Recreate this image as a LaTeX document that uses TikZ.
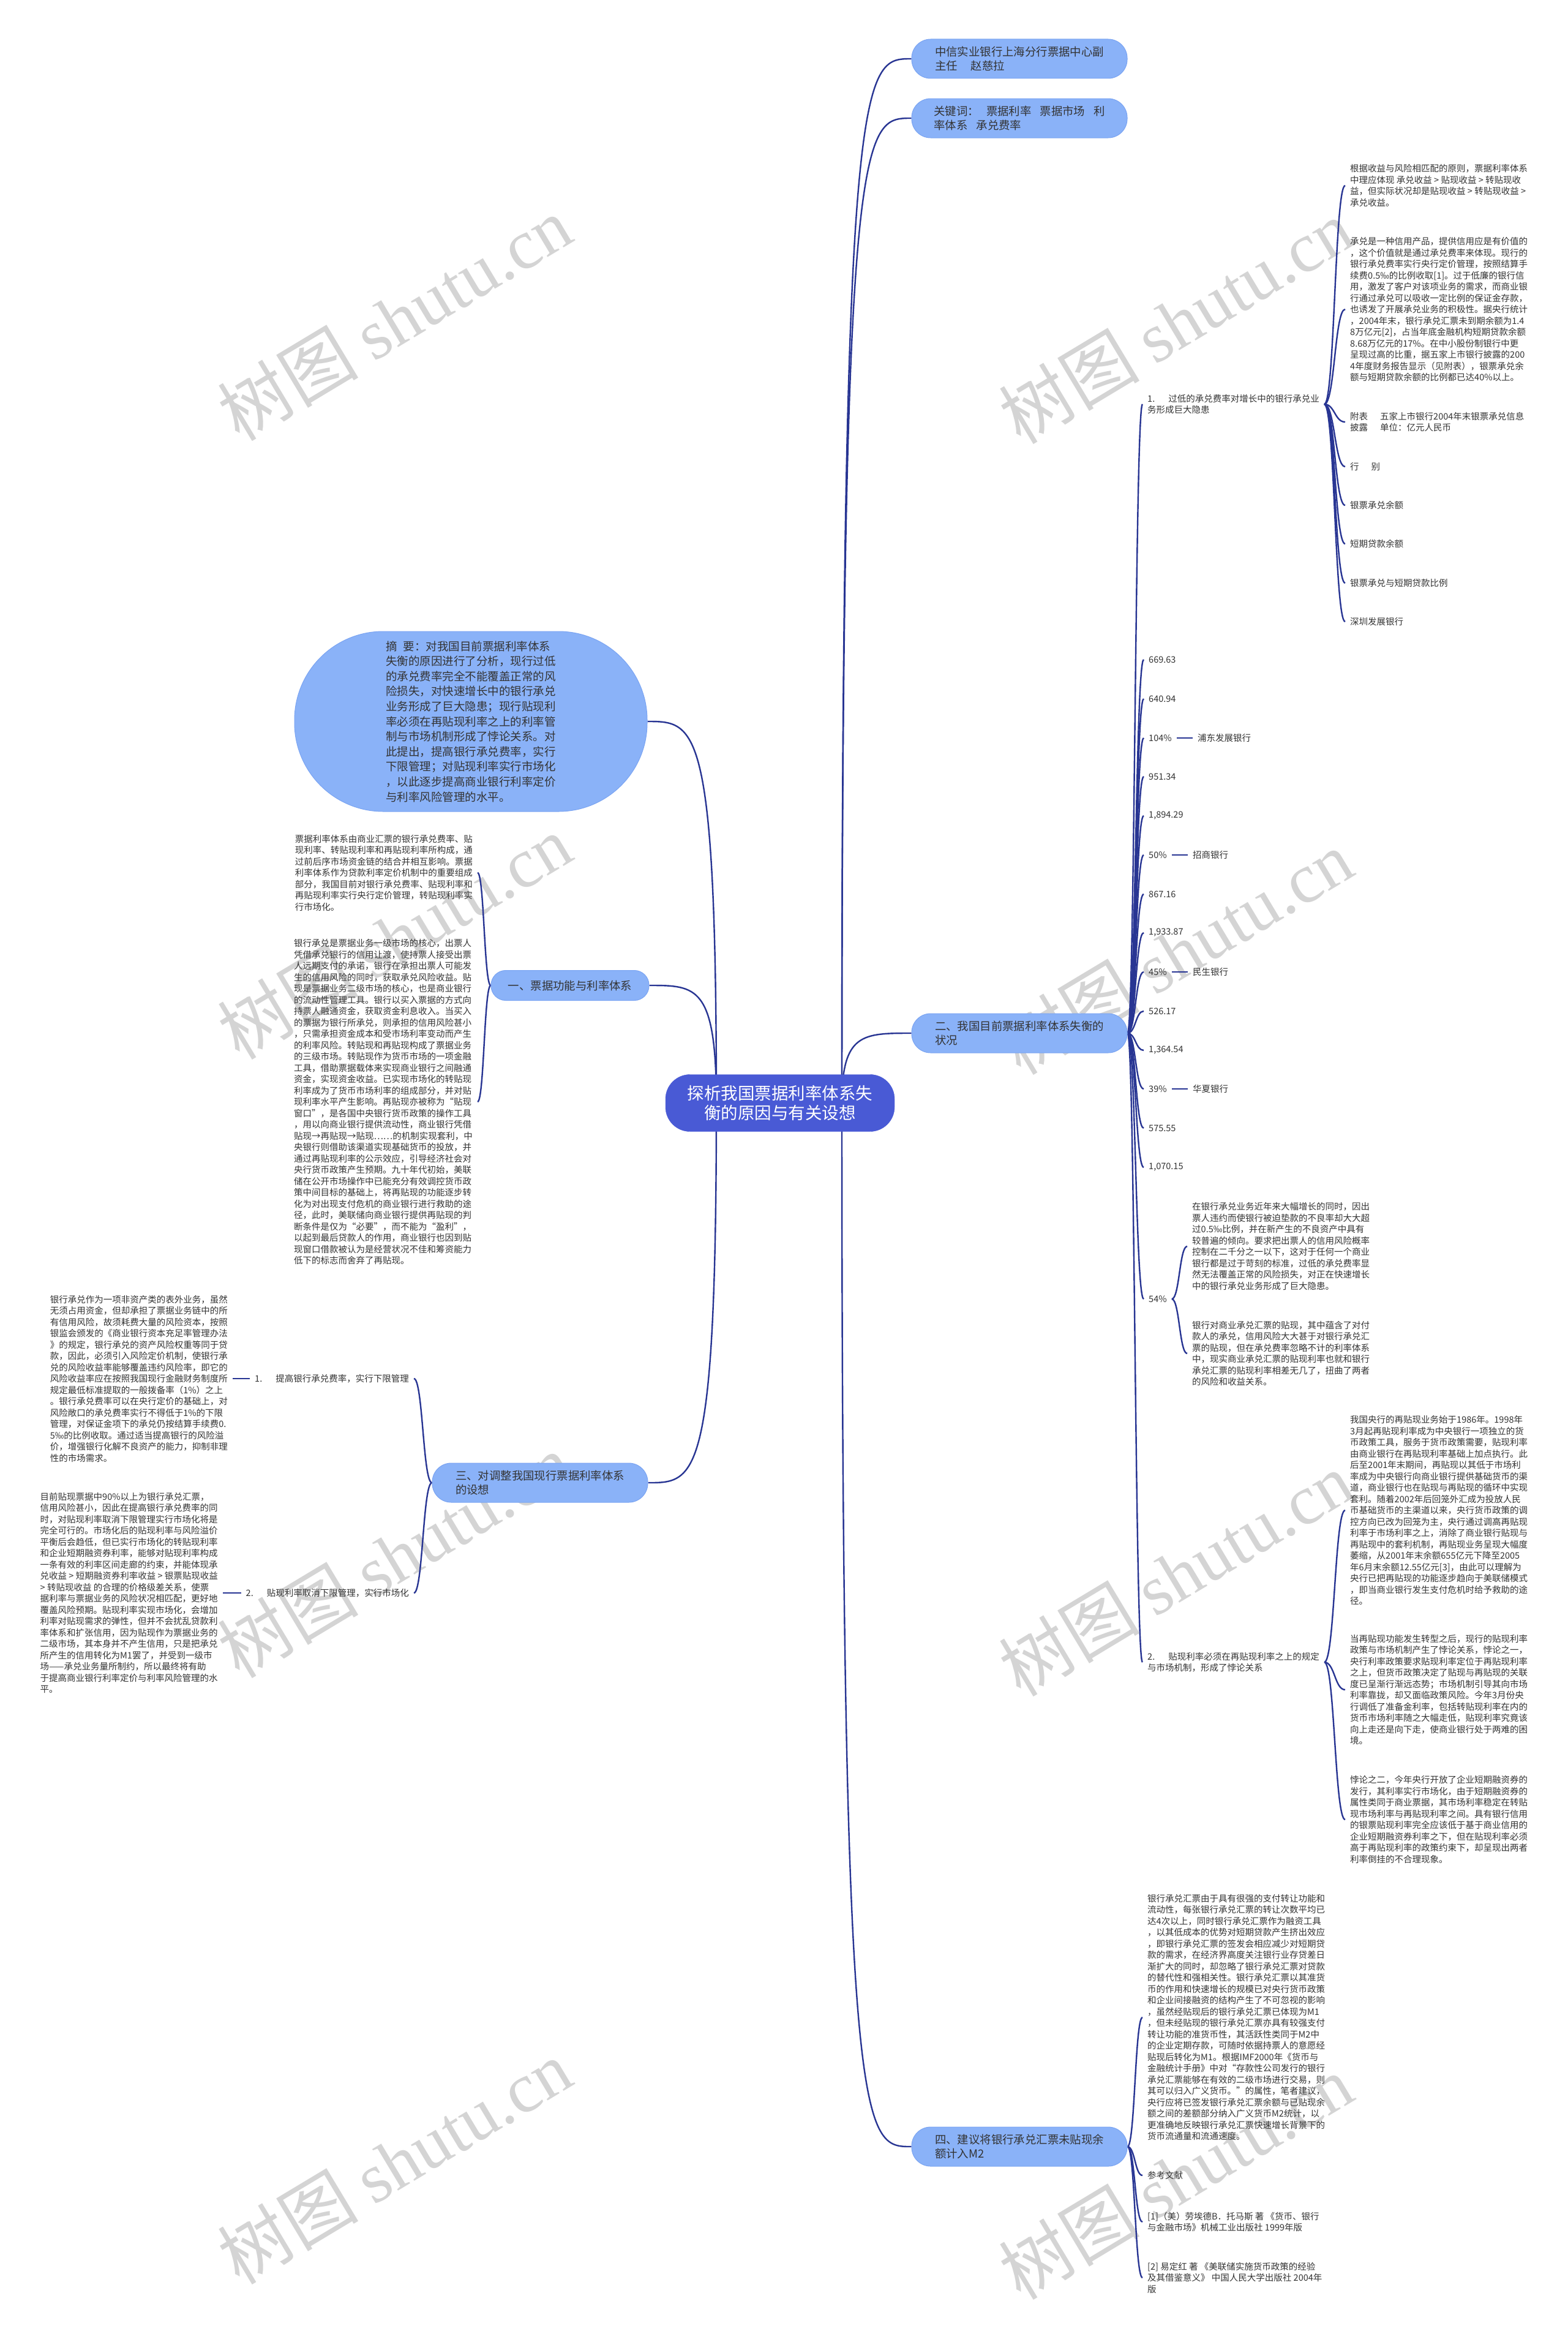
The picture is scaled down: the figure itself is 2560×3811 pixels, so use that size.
\documentclass[tikz,border=0pt]{standalone}
\usepackage{fontspec}
\setmainfont{Noto Sans CJK SC}
\newfontfamily\wmserif{Liberation Serif}
\usetikzlibrary{calc}
\definecolor{linec}{RGB}{40,53,147}
\definecolor{lvfill}{RGB}{138,178,248}
\definecolor{lvdraw}{RGB}{122,164,242}
\definecolor{rootfill}{RGB}{73,90,213}
\definecolor{txtc}{RGB}{51,51,51}
\definecolor{wmc}{RGB}{212,212,212}
\pgfdeclarelayer{wmlayer}
\pgfdeclarelayer{bglayer}
\pgfsetlayers{wmlayer,bglayer,main}
\newcommand{\mmlink}[2]{\draw[conn] let \p1=(#1), \p2=(#2) in (\p1) .. controls ({0.5*\x1+0.5*\x2},\y1) and ({0.5*\x1+0.5*\x2},\y2) .. (\p2);}
\newcommand{\mmroot}[2]{\draw[conn] let \p1=(#1), \p2=(#2) in (\p1) .. controls (\x1,\y2) and ({0.7*\x1+0.3*\x2},\y2) .. (\p2);}
\tikzset{
  conn/.style={draw=linec, line width=2.4pt},
  lvone/.style={fill=lvfill, draw=lvdraw, line width=1pt, rounded corners=31pt, minimum width=352pt, minimum height=64pt, inner sep=0pt, font=\fontsize{18.4}{23.3}\selectfont, text=txtc, align=left},
  rootbox/.style={fill=rootfill, draw=rootfill, rounded corners=40pt, minimum width=374pt, minimum height=93pt, inner sep=0pt, font=\fontsize{27.5}{32}\selectfont, text=white, align=center},
  txt/.style={font=\fontsize{14.5}{18.5}\selectfont, text=txtc, align=left, inner xsep=8pt, inner ysep=2pt},
  wm/.style={font=\fontsize{115}{115}\selectfont, text=wmc, rotate=31, inner sep=0pt}
}
\begin{document}
\begin{tikzpicture}[x=1pt,y=-1pt]
\useasboundingbox (0,0) rectangle (2560,3811);
\begin{pgfonlayer}{wmlayer}
\fill[white] (0,0) rectangle (2560,3811);
\foreach \wx/\wy in {644/520,1920/525,644/1530,1920/1555,644/2540,1920/2570,644/3530,1920/3555}
  \node[wm] at (\wx,\wy) {树图\hspace{25pt}{\wmserif shutu.cn}};
\end{pgfonlayer}

% root and level one
\node[rootbox] (root) at (1274,1801) {探析我国票据利率体系失\\衡的原因与有关设想};
\coordinate (rootR) at (1375,1801);
\coordinate (rootL) at (1170,1801);
\node[lvone] (na) at (1665,96) {中信实业银行上海分行票据中心副\\主任\hspace{22pt}赵慈拉};
\node[lvone] (nb) at (1665,193) {关键词：\hspace{12pt}票据利率\hspace{14pt}票据市场\hspace{14pt}利\\率体系\hspace{14pt}承兑费率};
\node[lvone] (two) at (1665,1687) {二、我国目前票据利率体系失衡的\\状况};
\node[lvone] (four) at (1665,3505) {四、建议将银行承兑汇票未贴现余\\额计入M2};
\node[lvone, minimum width=258pt, minimum height=49pt, rounded corners=24pt] (one) at (931,1609) {一、票据功能与利率体系};
\node[lvone] (three) at (882,2421) {三、对调整我国现行票据利率体系\\的设想};
\node[lvone, minimum width=576pt, minimum height=294pt, rounded corners=145pt, font=\fontsize{18.5}{24.6}\selectfont] (summ) at (769,1178) {摘\hspace{10pt}要：对我国目前票据利率体系\\失衡的原因进行了分析，现行过低\\的承兑费率完全不能覆盖正常的风\\险损失，对快速增长中的银行承兑\\业务形成了巨大隐患；现行贴现利\\率必须在再贴现利率之上的利率管\\制与市场机制形成了悖论关系。对\\此提出，提高银行承兑费率，实行\\下限管理；对贴现利率实行市场化\\，以此逐步提高商业银行利率定价\\与利率风险管理的水平。};

% branch two
\node[txt, anchor=west] (n1) at (1866,660) {1.\hspace{22pt}过低的承兑费率对增长中的银行承兑业\\务形成巨大隐患};
\node[txt, anchor=west] (r1) at (2197,303) {根据收益与风险相匹配的原则，票据利率体系\\中理应体现 承兑收益 > 贴现收益 > 转贴现收\\益，但实际状况却是贴现收益 > 转贴现收益 >\\承兑收益。};
\node[txt, anchor=west] (r2) at (2197,505) {承兑是一种信用产品，提供信用应是有价值的\\，这个价值就是通过承兑费率来体现。现行的\\银行承兑费率实行央行定价管理，按照结算手\\续费0.5‰的比例收取[1]。过于低廉的银行信\\用，激发了客户对该项业务的需求，而商业银\\行通过承兑可以吸收一定比例的保证金存款，\\也诱发了开展承兑业务的积极性。据央行统计\\，2004年末，银行承兑汇票未到期余额为1.4\\8万亿元[2]，占当年底金融机构短期贷款余额\\8.68万亿元的17\%。在中小股份制银行中更\\呈现过高的比重，据五家上市银行披露的200\\4年度财务报告显示（见附表），银票承兑余\\额与短期贷款余额的比例都已达40\%以上。};
\node[txt, anchor=west] (r3) at (2197,689) {附表\hspace{20pt}五家上市银行2004年末银票承兑信息\\披露\hspace{20pt}单位：亿元人民币};
\node[txt, anchor=west] (r4) at (2197,762) {行\hspace{20pt}别};
\node[txt, anchor=west] (r5) at (2197,825) {银票承兑余额};
\node[txt, anchor=west] (r6) at (2197,888) {短期贷款余额};
\node[txt, anchor=west] (r7) at (2197,952) {银票承兑与短期贷款比例};
\node[txt, anchor=west] (r8) at (2197,1015) {深圳发展银行};

\node[txt, anchor=west] (i0) at (1868,1077) {669.63};
\node[txt, anchor=west] (i1) at (1868,1141) {640.94};
\node[txt, anchor=west] (i2) at (1868,1205) {104\%};
\node[txt, anchor=west] (i3) at (1868,1268) {951.34};
\node[txt, anchor=west] (i4) at (1868,1332) {1,894.29};
\node[txt, anchor=west] (i5) at (1868,1396) {50\%};
\node[txt, anchor=west] (i6) at (1868,1460) {867.16};
\node[txt, anchor=west] (i7) at (1868,1523) {1,933.87};
\node[txt, anchor=west] (i8) at (1868,1587) {45\%};
\node[txt, anchor=west] (i9) at (1868,1651) {526.17};
\node[txt, anchor=west] (i10) at (1868,1715) {1,364.54};
\node[txt, anchor=west] (i11) at (1868,1778) {39\%};
\node[txt, anchor=west] (i12) at (1868,1842) {575.55};
\node[txt, anchor=west] (i13) at (1868,1906) {1,070.15};
\node[txt, anchor=west] (b2) at ($(i2.east)+(26,0)$) {浦东发展银行};
\node[txt, anchor=west] (b5) at ($(i5.east)+(26,0)$) {招商银行};
\node[txt, anchor=west] (b8) at ($(i8.east)+(26,0)$) {民生银行};
\node[txt, anchor=west] (b11) at ($(i11.east)+(26,0)$) {华夏银行};

\node[txt, anchor=west] (p54) at (1868,2121) {54\%};
\node[txt, anchor=west] (s1) at (1939,2035) {在银行承兑业务近年来大幅增长的同时，因出\\票人违约而使银行被迫垫款的不良率却大大超\\过0.5‰比例，并在新产生的不良资产中具有\\较普遍的倾向。要求把出票人的信用风险概率\\控制在二千分之一以下，这对于任何一个商业\\银行都是过于苛刻的标准，过低的承兑费率显\\然无法覆盖正常的风险损失，对正在快速增长\\中的银行承兑业务形成了巨大隐患。};
\node[txt, anchor=west] (s2) at (1939,2210) {银行对商业承兑汇票的贴现，其中蕴含了对付\\款人的承兑，信用风险大大甚于对银行承兑汇\\票的贴现，但在承兑费率忽略不计的利率体系\\中，现实商业承兑汇票的贴现利率也就和银行\\承兑汇票的贴现利率相差无几了，扭曲了两者\\的风险和收益关系。};

\node[txt, anchor=west] (n2) at (1866,2714) {2.\hspace{22pt}贴现利率必须在再贴现利率之上的规定\\与市场机制，形成了悖论关系};
\node[txt, anchor=west] (t1) at (2197,2466) {我国央行的再贴现业务始于1986年。1998年\\3月起再贴现利率成为中央银行一项独立的货\\币政策工具，服务于货币政策需要，贴现利率\\由商业银行在再贴现利率基础上加点执行。此\\后至2001年末期间，再贴现以其低于市场利\\率成为中央银行向商业银行提供基础货币的渠\\道，商业银行也在贴现与再贴现的循环中实现\\套利。随着2002年后回笼外汇成为投放人民\\币基础货币的主渠道以来，央行货币政策的调\\控方向已改为回笼为主，央行通过调高再贴现\\利率于市场利率之上，消除了商业银行贴现与\\再贴现中的套利机制，再贴现业务呈现大幅度\\萎缩，从2001年末余额655亿元下降至2005\\年6月末余额12.55亿元[3]，由此可以理解为\\央行已把再贴现的功能逐步趋向于美联储模式\\，即当商业银行发生支付危机时给予救助的途\\径。};
\node[txt, anchor=west] (t2) at (2197,2759) {当再贴现功能发生转型之后，现行的贴现利率\\政策与市场机制产生了悖论关系，悖论之一，\\央行利率政策要求贴现利率定位于再贴现利率\\之上，但货币政策决定了贴现与再贴现的关联\\度已呈渐行渐远态势；市场机制引导其向市场\\利率靠拢，却又面临政策风险。今年3月份央\\行调低了准备金利率，包括转贴现利率在内的\\货币市场利率随之大幅走低，贴现利率究竟该\\向上走还是向下走，使商业银行处于两难的困\\境。};
\node[txt, anchor=west] (t3) at (2197,2971) {悖论之二，今年央行开放了企业短期融资券的\\发行，其利率实行市场化，由于短期融资券的\\属性类同于商业票据，其市场利率稳定在转贴\\现市场利率与再贴现利率之间。具有银行信用\\的银票贴现利率完全应该低于基于商业信用的\\企业短期融资券利率之下，但在贴现利率必须\\高于再贴现利率的政策约束下，却呈现出两者\\利率倒挂的不合理现象。};

% branch four
\node[txt, anchor=west] (u1) at (1866,3294) {银行承兑汇票由于具有很强的支付转让功能和\\流动性，每张银行承兑汇票的转让次数平均已\\达4次以上，同时银行承兑汇票作为融资工具\\，以其低成本的优势对短期贷款产生挤出效应\\，即银行承兑汇票的签发会相应减少对短期贷\\款的需求，在经济界高度关注银行业存贷差日\\渐扩大的同时，却忽略了银行承兑汇票对贷款\\的替代性和强相关性。银行承兑汇票以其准货\\币的作用和快速增长的规模已对央行货币政策\\和企业间接融资的结构产生了不可忽视的影响\\，虽然经贴现后的银行承兑汇票已体现为M1\\，但未经贴现的银行承兑汇票亦具有较强支付\\转让功能的准货币性，其活跃性类同于M2中\\的企业定期存款，可随时依据持票人的意愿经\\贴现后转化为M1。根据IMF2000年《货币与\\金融统计手册》中对“存款性公司发行的银行\\承兑汇票能够在有效的二级市场进行交易，则\\其可以归入广义货币。”的属性，笔者建议，\\央行应将已签发银行承兑汇票余额与已贴现余\\额之间的差额部分纳入广义货币M2统计，以\\更准确地反映银行承兑汇票快速增长背景下的\\货币流通量和流通速度。};
\node[txt, anchor=west] (u2) at (1866,3552) {参考文献};
\node[txt, anchor=west] (u3) at (1866,3628) {[1]（美）劳埃德B．托马斯 著 《货币、银行\\与金融市场》机械工业出版社 1999年版};
\node[txt, anchor=west] (u4) at (1866,3719) {[2] 易定红 著 《美联储实施货币政策的经验\\及其借鉴意义》 中国人民大学出版社 2004年\\版};

% branch one
\node[txt, anchor=east] (l1) at (780,1425) {票据利率体系由商业汇票的银行承兑费率、贴\\现利率、转贴现利率和再贴现利率所构成，通\\过前后序市场资金链的结合并相互影响。票据\\利率体系作为贷款利率定价机制中的重要组成\\部分，我国目前对银行承兑费率、贴现利率和\\再贴现利率实行央行定价管理，转贴现利率实\\行市场化。};
\node[txt, anchor=east] (l2) at (780,1799) {银行承兑是票据业务一级市场的核心，出票人\\凭借承兑银行的信用让渡，使持票人接受出票\\人远期支付的承诺，银行在承担出票人可能发\\生的信用风险的同时，获取承兑风险收益。贴\\现是票据业务二级市场的核心，也是商业银行\\的流动性管理工具。银行以买入票据的方式向\\持票人融通资金，获取资金利息收入。当买入\\的票据为银行所承兑，则承担的信用风险甚小\\，只需承担资金成本和受市场利率变动而产生\\的利率风险。转贴现和再贴现构成了票据业务\\的三级市场。转贴现作为货币市场的一项金融\\工具，借助票据载体来实现商业银行之间融通\\资金，实现资金收益。已实现市场化的转贴现\\利率成为了货币市场利率的组成部分，并对贴\\现利率水平产生影响。再贴现亦被称为“贴现\\窗口”，是各国中央银行货币政策的操作工具\\，用以向商业银行提供流动性，商业银行凭借\\贴现→再贴现→贴现……的机制实现套利，中\\央银行则借助该渠道实现基础货币的投放，并\\通过再贴现利率的公示效应，引导经济社会对\\央行货币政策产生预期。九十年代初始，美联\\储在公开市场操作中已能充分有效调控货币政\\策中间目标的基础上，将再贴现的功能逐步转\\化为对出现支付危机的商业银行进行救助的途\\径，此时，美联储向商业银行提供再贴现的判\\断条件是仅为“必要”，而不能为“盈利”，\\以起到最后贷款人的作用，商业银行也因到贴\\现窗口借款被认为是经营状况不佳和筹资能力\\低下的标志而舍弃了再贴现。};

% branch three
\node[txt, anchor=east] (m1) at (676,2251) {1.\hspace{22pt}提高银行承兑费率，实行下限管理};
\node[txt, anchor=east] (m2) at (676,2601) {2.\hspace{22pt}贴现利率取消下限管理，实行市场化};
\node[txt, anchor=east] (k1) at (380,2251) {银行承兑作为一项非资产类的表外业务，虽然\\无须占用资金，但却承担了票据业务链中的所\\有信用风险，故须耗费大量的风险资本，按照\\银监会颁发的《商业银行资本充足率管理办法\\》的规定，银行承兑的资产风险权重等同于贷\\款，因此，必须引入风险定价机制，使银行承\\兑的风险收益率能够覆盖违约风险率，即它的\\风险收益率应在按照我国现行金融财务制度所\\规定最低标准提取的一般拨备率（1\%）之上\\。银行承兑费率可以在央行定价的基础上，对\\风险敞口的承兑费率实行不得低于1\%的下限\\管理，对保证金项下的承兑仍按结算手续费0.\\5‰的比例收取。通过适当提高银行的风险溢\\价，增强银行化解不良资产的能力，抑制非理\\性的市场需求。};
\node[txt, anchor=east] (k2) at (364,2601) {目前贴现票据中90\%以上为银行承兑汇票，\\信用风险甚小，因此在提高银行承兑费率的同\\时，对贴现利率取消下限管理实行市场化将是\\完全可行的。市场化后的贴现利率与风险溢价\\平衡后会趋低，但已实行市场化的转贴现利率\\和企业短期融资券利率，能够对贴现利率构成\\一条有效的利率区间走廊的约束，并能体现承\\兑收益 > 短期融资券利率收益 > 银票贴现收益\\ > 转贴现收益 的合理的价格级差关系，使票\\据利率与票据业务的风险状况相匹配，更好地\\覆盖风险预期。贴现利率实现市场化，会增加\\利率对贴现需求的弹性，但并不会扰乱贷款利\\率体系和扩张信用，因为贴现作为票据业务的\\二级市场，其本身并不产生信用，只是把承兑\\所产生的信用转化为M1罢了，并受到一级市\\场——承兑业务量所制约，所以最终将有助\\于提高商业银行利率定价与利率风险管理的水\\平。};

\begin{pgfonlayer}{bglayer}
\mmroot{rootR}{na.west}
\mmroot{rootR}{nb.west}
\mmroot{rootR}{two.west}
\mmroot{rootR}{four.west}
\mmroot{rootL}{summ.east}
\mmroot{rootL}{one.east}
\mmroot{rootL}{three.east}
\foreach \c in {n1,i0,i1,i2,i3,i4,i5,i6,i7,i8,i9,i10,i11,i12,i13,p54,n2}
  {\mmlink{two.east}{\c.west}}
\foreach \c in {r1,r2,r3,r4,r5,r6,r7,r8}
  {\mmlink{n1.east}{\c.west}}
\foreach \c in {t1,t2,t3}
  {\mmlink{n2.east}{\c.west}}
\foreach \c in {s1,s2}
  {\mmlink{p54.east}{\c.west}}
\foreach \c in {u1,u2,u3,u4}
  {\mmlink{four.east}{\c.west}}
\foreach \c in {l1,l2}
  {\mmlink{one.west}{\c.east}}
\foreach \c in {m1,m2}
  {\mmlink{three.west}{\c.east}}
\draw[conn] (i2.east) -- (b2.west);
\draw[conn] (i5.east) -- (b5.west);
\draw[conn] (i8.east) -- (b8.west);
\draw[conn] (i11.east) -- (b11.west);
\draw[conn] (k1.east) -- (m1.west);
\draw[conn] (k2.east) -- (m2.west);
\end{pgfonlayer}
\end{tikzpicture}
\end{document}
